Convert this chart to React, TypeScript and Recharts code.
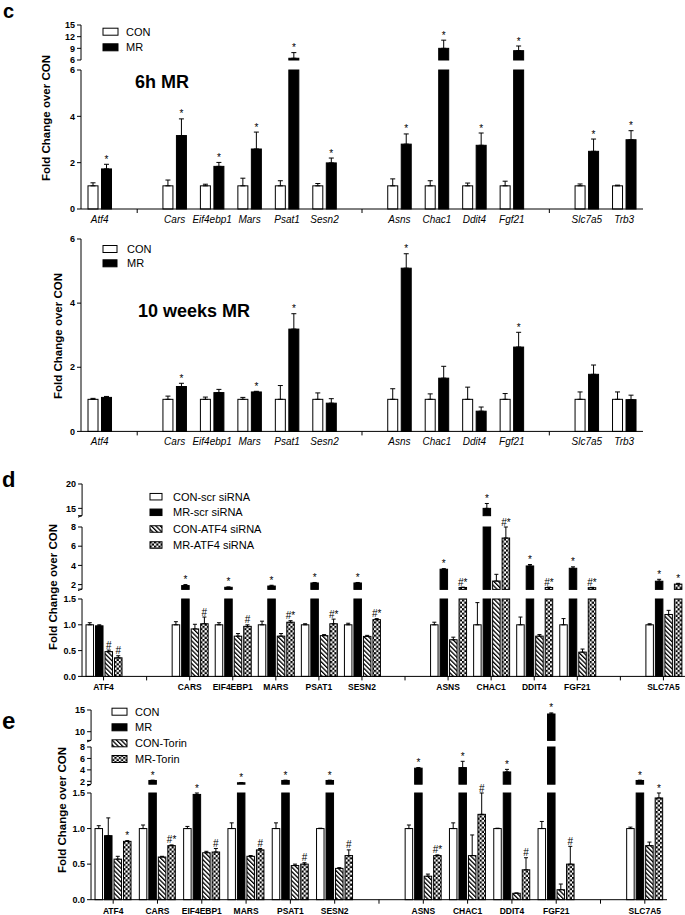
import React from "react";
import { Bar, BarChart, ErrorBar, XAxis, YAxis } from "recharts";

const FONT = "Arial, 'Liberation Sans', Helvetica, sans-serif";
const PAGE_W = 685;
const PAGE_H = 915;

// ---- panel c (6h MR / 10 weeks MR) ----
const cGenes = ["Atf4", "", "Cars", "Eif4ebp1", "Mars", "Psat1", "Sesn2", "", "Asns", "Chac1", "Ddit4", "Fgf21", "", "Slc7a5", "Trb3"];

const c6Con = [1, null, 1, 1, 1, 1, 1, null, 1, 1, 1, 1, null, 1, 1];
const c6ConErr = [0.13, null, 0.25, 0.07, 0.33, 0.22, 0.1, null, 0.3, 0.22, 0.12, 0.2, null, 0.08, 0.03];
const c6Mr = [1.73, null, 3.17, 1.84, 2.59, 6.45, 1.99, null, 2.8, 9.0, 2.75, 8.4, null, 2.49, 2.99];
const c6MrErr = [0.2, null, 0.72, 0.17, 0.73, 1.45, 0.21, null, 0.44, 2.1, 0.53, 1.2, null, 0.53, 0.39];
const c6MrSig = ["*", "", "*", "*", "*", "*", "*", "", "*", "*", "*", "*", "", "*", "*"];

const cwCon = [1, null, 1, 1, 1, 1, 1, null, 1, 1, 1, 1, null, 1, 1];
const cwConErr = [0.03, null, 0.1, 0.07, 0.06, 0.43, 0.2, null, 0.33, 0.17, 0.38, 0.18, null, 0.23, 0.23];
const cwMr = [1.06, null, 1.4, 1.21, 1.23, 3.19, 0.88, null, 5.09, 1.66, 0.63, 2.63, null, 1.78, 0.99];
const cwMrErr = [0.03, null, 0.1, 0.1, 0.02, 0.48, 0.14, null, 0.45, 0.37, 0.13, 0.46, null, 0.29, 0.14];
const cwMrSig = ["", "", "*", "", "*", "*", "", "", "*", "", "", "*", "", "", ""];

// ---- panel d (ATF4 siRNA) ----
const dGenes = ["ATF4", "", "CARS", "EIF4EBP1", "MARS", "PSAT1", "SESN2", "", "ASNS", "CHAC1", "DDIT4", "FGF21", "", "SLC7A5"];

const dConScr = [1, null, 1, 1, 1, 1, 1, null, 1, 1, 1, 1, null, 1];
const dConScrErr = [0.04, null, 0.06, 0.04, 0.07, 0.02, 0.03, null, 0.05, 0.43, 0.15, 0.12, null, 0.02];
const dMrScr = [0.98, null, 1.9, 1.72, 1.85, 2.17, 2.17, null, 3.6, 15.0, 3.94, 3.7, null, 2.35];
const dMrScrErr = [0.02, null, 0.1, 0.03, 0.08, 0.05, 0.05, null, 0.06, 1.0, 0.15, 0.15, null, 0.2];
const dMrScrSig = ["", "", "*", "*", "*", "*", "*", "", "*", "*", "*", "*", "", "*"];
const dConAtf = [0.48, null, 0.92, 0.78, 0.78, 0.79, 0.775, null, 0.71, 2.37, 0.78, 0.47, null, 1.2];
const dConAtfErr = [0.03, null, 0.09, 0.05, 0.05, 0.02, 0.02, null, 0.05, 0.7, 0.03, 0.06, null, 0.08];
const dConAtfSig = ["#", "", "", "", "", "", "", "", "", "", "", "", "", ""];
const dMrAtf = [0.36, null, 1.02, 0.97, 1.05, 1.02, 1.1, null, 1.7, 6.85, 1.7, 1.68, null, 2.05];
const dMrAtfErr = [0.04, null, 0.13, 0.03, 0.03, 0.09, 0.02, null, 0.03, 1.15, 0.03, 0.03, null, 0.08];
const dMrAtfSig = ["#", "", "#", "#", "#*", "#*", "#*", "", "#*", "#*", "#*", "#*", "", "*"];

// ---- panel e (Torin) ----
const eGenes = ["ATF4", "CARS", "EIF4EBP1", "MARS", "PSAT1", "SESN2", "", "ASNS", "CHAC1", "DDIT4", "FGF21", "", "SLC7A5"];

const eCon = [1, 1, 1, 1, 1, 1, null, 1, 1, 1, 1, null, 1];
const eConErr = [0.04, 0.05, 0.03, 0.08, 0.08, 0.005, null, 0.05, 0.08, 0.005, 0.1, null, 0.02];
const eMr = [0.9, 2.15, 1.48, 1.75, 2.15, 2.15, null, 4.3, 4.4, 3.64, 14.08, null, 2.15];
const eMrErr = [0.25, 0.05, 0.02, 0.03, 0.05, 0.05, null, 0.1, 1.1, 0.45, 0.25, null, 0.05];
const eMrSig = ["", "*", "*", "*", "*", "*", "", "*", "*", "*", "*", "", "*"];
const eConTor = [0.57, 0.6, 0.66, 0.61, 0.48, 0.44, null, 0.33, 0.62, 0.09, 0.14, null, 0.76];
const eConTorErr = [0.04, 0.01, 0.02, 0.01, 0.02, 0.01, null, 0.03, 0.29, 0.005, 0.08, null, 0.05];
const eMrTor = [0.82, 0.76, 0.67, 0.7, 0.5, 0.62, null, 0.62, 1.2, 0.42, 0.5, null, 1.43];
const eMrTorErr = [0.01, 0.01, 0.05, 0.02, 0.02, 0.08, null, 0.01, 0.35, 0.17, 0.25, null, 0.09];
const eMrTorSig = ["*", "#*", "#", "#", "#", "#", "", "#*", "#", "#", "#", "", "*"];

const noSig = (n: number) => Array.from({ length: n }, () => "");

type Seg = { lo: number; hi: number; top: number; bottom: number; ticks: number[]; dec?: number };
type Series = { key: string; fill: string; values: (number | null)[]; errs: (number | null)[]; sigs: string[] };
type Layout = { axisX: number; rightEdge: number; barSize: number; barGap: number; capW: number; italic: boolean; tickAll: boolean };

const WHITE = "#fff";
const BLACK = "#000";
const HATCH = "url(#hatch)";
const CHECK = "url(#checker)";

// split values into one broken-axis segment: bars above the segment are cut at its top,
// bars below an upper segment are left out
function segmentRows(genes: string[], series: Series[], seg: Seg, lowest: boolean) {
  return genes.map((g, i) => {
    const row: Record<string, any> = { cat: g === "" ? `gap${i}` : g };
    series.forEach((s) => {
      const v = s.values[i];
      const e = s.errs[i] ?? 0;
      row[s.key] = null;
      row[s.key + "E"] = null;
      row[s.key + "V"] = 0;
      row[s.key + "S"] = "";
      if (v == null) return;
      if (!lowest && v <= seg.lo) return;
      if (v > seg.hi) {
        row[s.key] = seg.hi;
        return;
      }
      const ee = Math.min(e, seg.hi - v);
      row[s.key] = v;
      row[s.key + "E"] = ee > 0 ? [0, ee] : null;
      row[s.key + "V"] = ee;
      row[s.key + "S"] = s.sigs[i] || "";
    });
    return row;
  });
}

function renderBar(p: any, s: Series, pxPerUnit: number) {
  const row = p.payload || {};
  const v = row[s.key];
  if (v == null || !(p.height >= 0)) return <g />;
  const sig = row[s.key + "S"];
  const errTop = p.y - (row[s.key + "V"] || 0) * pxPerUnit;
  return (
    <g>
      <rect x={p.x} y={p.y} width={p.width} height={p.height} fill={s.fill} stroke="#000" strokeWidth={1} />
      {sig ? (
        <text x={p.x + p.width / 2} y={errTop - 1.5} textAnchor="middle" fontSize={10} fontFamily={FONT} fill="#000" stroke="none">
          {sig}
        </text>
      ) : null}
    </g>
  );
}

function GeneTick({ x, y, payload, italic, tickAll }: any) {
  const name = String(payload?.value ?? "");
  const gap = name.startsWith("gap");
  return (
    <g>
      {gap || tickAll ? <line x1={x} x2={x} y1={y} y2={y + 4} stroke="#000" strokeWidth={1} /> : null}
      {!gap ? (
        <text
          x={x}
          y={y + 14}
          textAnchor="middle"
          fontSize={italic ? 10 : 8.5}
          fontStyle={italic ? "italic" : "normal"}
          fontWeight={italic ? 400 : 700}
          fontFamily={FONT}
          fill="#000"
        >
          {name}
        </text>
      ) : null}
    </g>
  );
}

function SegmentChart({ genes, series, seg, lowest, layout }: { genes: string[]; series: Series[]; seg: Seg; lowest: boolean; layout: Layout }) {
  const mt = 4;
  const plotH = seg.bottom - seg.top;
  const pxPerUnit = plotH / (seg.hi - seg.lo);
  const xH = lowest ? 20 : 0;
  const rows = segmentRows(genes, series, seg, lowest);

  return (
    <div style={{ position: "absolute", left: 0, top: seg.top - mt }}>
      <BarChart
        width={PAGE_W}
        height={mt + plotH + xH}
        data={rows}
        margin={{ top: mt, right: PAGE_W - layout.rightEdge, bottom: 0, left: 0 }}
        barSize={layout.barSize}
        barGap={layout.barGap}
      >
        <XAxis
          dataKey="cat"
          type="category"
          hide={!lowest}
          height={xH || 1}
          interval={0}
          axisLine={{ stroke: "#000", strokeWidth: 1 }}
          tickLine={false}
          tickSize={0}
          tickMargin={0}
          tick={(p: any) => <GeneTick {...p} italic={layout.italic} tickAll={layout.tickAll} />}
        />
        <YAxis
          type="number"
          domain={[seg.lo, seg.hi]}
          ticks={seg.ticks}
          interval={0}
          width={layout.axisX}
          tickSize={4}
          axisLine={{ stroke: "#000" }}
          tickLine={{ stroke: "#000" }}
          tick={{ fontSize: 9, fontWeight: 700, fill: "#000", fontFamily: FONT }}
          tickFormatter={(v: number) => Number(v).toFixed(seg.dec ?? 0)}
        />
        {series.map((s) => (
          <Bar key={s.key} dataKey={s.key} fill={s.fill} isAnimationActive={false} shape={(p: any) => renderBar(p, s, pxPerUnit)}>
            <ErrorBar dataKey={s.key + "E"} width={layout.capW} stroke="#000" strokeWidth={1} direction="y" isAnimationActive={false} />
          </Bar>
        ))}
      </BarChart>
    </div>
  );
}

function BrokenPanel({ genes, series, segs, layout }: { genes: string[]; series: Series[]; segs: Seg[]; layout: Layout }) {
  return (
    <>
      {segs.map((seg, i) => (
        <SegmentChart key={i} genes={genes} series={series} seg={seg} lowest={i === segs.length - 1} layout={layout} />
      ))}
    </>
  );
}

// short marks where an axis segment ends without a tick (the break)
function BreakMarks({ x, segs }: { x: number; segs: Seg[] }) {
  const ys: number[] = [];
  segs.forEach((s, i) => {
    if (i < segs.length - 1 && !s.ticks.includes(s.lo)) ys.push(s.bottom);
  });
  return (
    <g>
      {ys.map((y) => (
        <polyline key={y} points={`${x - 4},${y + 1.5} ${x},${y} ${x - 4},${y}`} fill="none" stroke="#000" strokeWidth={1} />
      ))}
    </g>
  );
}

function LegendRows({ x, textX, rows, w, h, items }: { x: number; textX: number; rows: number[]; w: number; h: number; items: { fill: string; label: string }[] }) {
  return (
    <g>
      {items.map((it, i) => (
        <g key={it.label}>
          <rect x={x} y={rows[i] - h / 2} width={w} height={h} fill={it.fill} stroke="#000" strokeWidth={1} />
          <text x={textX} y={rows[i]} dominantBaseline="central" fontSize={11} fontFamily={FONT} fill="#000">
            {it.label}
          </text>
        </g>
      ))}
    </g>
  );
}

function YTitle({ x, y, size = 11.5 }: { x: number; y: number; size?: number }) {
  return (
    <text
      x={x}
      y={y}
      transform={`rotate(-90 ${x} ${y})`}
      textAnchor="middle"
      dominantBaseline="central"
      fontSize={size}
      fontWeight={700}
      fontFamily={FONT}
      fill="#000"
    >
      Fold Change over CON
    </text>
  );
}

const cLayout: Layout = { axisX: 81, rightEdge: 643, barSize: 10, barGap: 3.5, capW: 2.5, italic: true, tickAll: false };
const dLayout: Layout = { axisX: 82, rightEdge: 685, barSize: 7.5, barGap: 2, capW: 2, italic: false, tickAll: true };
const eLayout: Layout = { axisX: 91, rightEdge: 667, barSize: 7.5, barGap: 2, capW: 2, italic: false, tickAll: true };

const c6Segs: Seg[] = [
  { lo: 6, hi: 15, top: 25, bottom: 60, ticks: [6, 9, 12, 15] },
  { lo: 0, hi: 6, top: 70.3, bottom: 209.3, ticks: [0, 2, 4, 6] },
];
const cwSegs: Seg[] = [{ lo: 0, hi: 6, top: 239.3, bottom: 431.7, ticks: [0, 2, 4, 6] }];
const dSegs: Seg[] = [
  { lo: 13.5, hi: 20, top: 484, bottom: 515.7, ticks: [15, 20] },
  { lo: 1.5, hi: 8, top: 526.7, bottom: 589.1, ticks: [2, 4, 6, 8] },
  { lo: 0, hi: 1.5, top: 599.3, bottom: 676.7, ticks: [0, 0.5, 1, 1.5], dec: 1 },
];
const eSegs: Seg[] = [
  { lo: 8, hi: 15, top: 710, bottom: 740.4, ticks: [10, 15] },
  { lo: 1.5, hi: 8, top: 747.3, bottom: 784.5, ticks: [2, 4, 6, 8] },
  { lo: 0, hi: 1.5, top: 793.3, bottom: 900, ticks: [0, 0.5, 1, 1.5], dec: 1 },
];

export default function App() {
  const c6Series: Series[] = [
    { key: "con", fill: WHITE, values: c6Con, errs: c6ConErr, sigs: noSig(cGenes.length) },
    { key: "mr", fill: BLACK, values: c6Mr, errs: c6MrErr, sigs: c6MrSig },
  ];
  const cwSeries: Series[] = [
    { key: "con", fill: WHITE, values: cwCon, errs: cwConErr, sigs: noSig(cGenes.length) },
    { key: "mr", fill: BLACK, values: cwMr, errs: cwMrErr, sigs: cwMrSig },
  ];
  const dSeries: Series[] = [
    { key: "conScr", fill: WHITE, values: dConScr, errs: dConScrErr, sigs: noSig(dGenes.length) },
    { key: "mrScr", fill: BLACK, values: dMrScr, errs: dMrScrErr, sigs: dMrScrSig },
    { key: "conAtf", fill: HATCH, values: dConAtf, errs: dConAtfErr, sigs: dConAtfSig },
    { key: "mrAtf", fill: CHECK, values: dMrAtf, errs: dMrAtfErr, sigs: dMrAtfSig },
  ];
  const eSeries: Series[] = [
    { key: "con", fill: WHITE, values: eCon, errs: eConErr, sigs: noSig(eGenes.length) },
    { key: "mr", fill: BLACK, values: eMr, errs: eMrErr, sigs: eMrSig },
    { key: "conTor", fill: HATCH, values: eConTor, errs: eConTorErr, sigs: noSig(eGenes.length) },
    { key: "mrTor", fill: CHECK, values: eMrTor, errs: eMrTorErr, sigs: eMrTorSig },
  ];

  return (
    <div style={{ position: "absolute", left: 0, top: 0, width: PAGE_W, height: PAGE_H, background: "#fff", overflow: "hidden", fontFamily: FONT }}>
      <style>{`.recharts-surface{overflow:visible}`}</style>

      <BrokenPanel genes={cGenes} series={c6Series} segs={c6Segs} layout={cLayout} />
      <BrokenPanel genes={cGenes} series={cwSeries} segs={cwSegs} layout={cLayout} />
      <BrokenPanel genes={dGenes} series={dSeries} segs={dSegs} layout={dLayout} />
      <BrokenPanel genes={eGenes} series={eSeries} segs={eSegs} layout={eLayout} />

      <svg width={PAGE_W} height={PAGE_H} style={{ position: "absolute", left: 0, top: 0, pointerEvents: "none" }}>
        <defs>
          <pattern id="hatch" patternUnits="userSpaceOnUse" width={3.2} height={3.2} patternTransform="rotate(-45)">
            <rect width={3.2} height={3.2} fill="#fff" />
            <rect width={1.3} height={3.2} fill="#000" />
          </pattern>
          <pattern id="checker" patternUnits="userSpaceOnUse" width={4.4} height={4.4}>
            <rect width={4.4} height={4.4} fill="#fff" />
            <rect width={2.2} height={2.2} fill="#000" />
            <rect x={2.2} y={2.2} width={2.2} height={2.2} fill="#000" />
          </pattern>
        </defs>

        <text x={3} y={18} fontSize={20} fontWeight={700} fontFamily={FONT}>c</text>
        <text x={2} y={487} fontSize={22} fontWeight={700} fontFamily={FONT}>d</text>
        <text x={2} y={729} fontSize={24} fontWeight={700} fontFamily={FONT}>e</text>

        <BreakMarks x={dLayout.axisX} segs={dSegs} />
        <BreakMarks x={eLayout.axisX} segs={eSegs} />

        <YTitle x={46} y={118} />
        <YTitle x={58} y={336} />
        <YTitle x={53} y={587} />
        <YTitle x={62} y={810} />

        <text x={135} y={88} fontSize={18} fontWeight={700} fontFamily={FONT}>6h MR</text>
        <text x={138} y={317} fontSize={18} fontWeight={700} fontFamily={FONT}>10 weeks MR</text>

        <LegendRows x={103} textX={126} rows={[31.7, 47.3]} w={15} h={7}
          items={[{ fill: WHITE, label: "CON" }, { fill: BLACK, label: "MR" }]} />
        <LegendRows x={103} textX={127} rows={[249, 263.3]} w={14} h={7}
          items={[{ fill: WHITE, label: "CON" }, { fill: BLACK, label: "MR" }]} />
        <LegendRows x={150} textX={173} rows={[496.7, 512.3, 529, 545]} w={12} h={6.5}
          items={[
            { fill: WHITE, label: "CON-scr siRNA" },
            { fill: BLACK, label: "MR-scr siRNA" },
            { fill: HATCH, label: "CON-ATF4 siRNA" },
            { fill: CHECK, label: "MR-ATF4 siRNA" },
          ]} />
        <LegendRows x={112} textX={135} rows={[711.7, 727.3, 743.3, 759]} w={15} h={7}
          items={[
            { fill: WHITE, label: "CON" },
            { fill: BLACK, label: "MR" },
            { fill: HATCH, label: "CON-Torin" },
            { fill: CHECK, label: "MR-Torin" },
          ]} />
      </svg>
    </div>
  );
}
